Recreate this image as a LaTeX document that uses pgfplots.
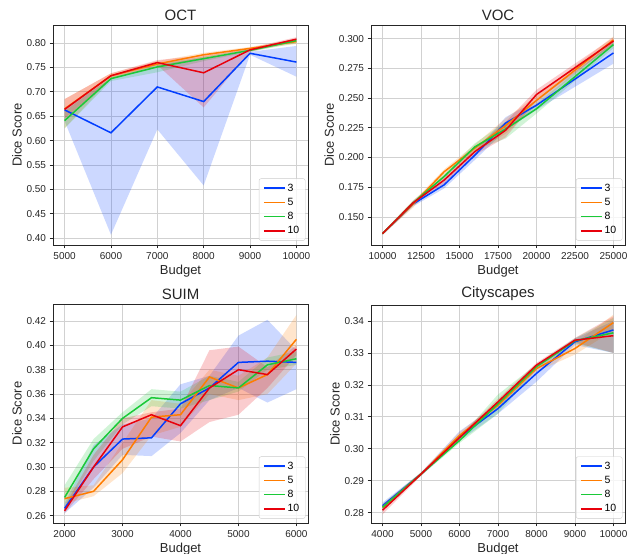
\documentclass[border=0pt]{standalone}
\usepackage{pgfplots}
\pgfplotsset{compat=1.18}
\usepackage{pgfplotstable}
\usepgfplotslibrary{fillbetween}
\usepackage{fontspec}
\setmainfont{Liberation Sans}

\definecolor{c3}{HTML}{023EFF}
\definecolor{c5}{HTML}{FF7C00}
\definecolor{c8}{HTML}{1AC938}
\definecolor{c10}{HTML}{E8000B}
\definecolor{ink}{HTML}{262626}

% columns: x, then mean/low/high for 3, 5, 8, 10
\pgfplotstableread{
x     m3    l3    h3    m5    l5    h5    m8    l8    h8    m10   l10   h10
5000  0.663 0.640 0.666 0.665 0.625 0.685 0.641 0.625 0.660 0.664 0.645 0.685
6000  0.616 0.407 0.727 0.733 0.727 0.738 0.727 0.722 0.731 0.733 0.726 0.738
7000  0.710 0.623 0.755 0.757 0.750 0.763 0.751 0.740 0.757 0.760 0.755 0.765
8000  0.680 0.508 0.770 0.776 0.770 0.780 0.768 0.763 0.772 0.739 0.668 0.775
9000  0.779 0.776 0.782 0.789 0.786 0.792 0.785 0.782 0.788 0.786 0.782 0.790
10000 0.761 0.731 0.794 0.803 0.798 0.808 0.805 0.800 0.809 0.808 0.803 0.812
}\oct

\pgfplotstableread{
x     m3    l3    h3    m5    l5    h5    m8    l8    h8    m10   l10   h10
10000 0.136 0.135 0.137 0.136 0.135 0.137 0.136 0.135 0.137 0.136 0.135 0.137
12000 0.161 0.159 0.163 0.161 0.158 0.163 0.162 0.160 0.164 0.162 0.160 0.164
14000 0.177 0.174 0.180 0.188 0.185 0.190 0.184 0.181 0.186 0.181 0.178 0.184
16000 0.202 0.198 0.205 0.208 0.205 0.211 0.209 0.206 0.212 0.205 0.202 0.208
18000 0.229 0.223 0.234 0.227 0.220 0.233 0.224 0.216 0.230 0.223 0.217 0.230
20000 0.244 0.240 0.248 0.248 0.244 0.252 0.241 0.237 0.245 0.253 0.248 0.257
25000 0.288 0.279 0.297 0.299 0.296 0.302 0.295 0.292 0.298 0.298 0.295 0.301
}\voc

\pgfplotstableread{
x    m3    l3    h3    m5    l5    h5    m8    l8    h8    m10   l10   h10
2000 0.266 0.262 0.270 0.274 0.270 0.283 0.275 0.266 0.285 0.264 0.262 0.268
2500 0.300 0.283 0.318 0.280 0.276 0.285 0.315 0.305 0.323 0.300 0.290 0.310
3000 0.323 0.310 0.335 0.306 0.295 0.320 0.340 0.335 0.345 0.333 0.315 0.340
3500 0.324 0.309 0.340 0.341 0.326 0.355 0.357 0.350 0.364 0.343 0.325 0.345
4000 0.352 0.328 0.368 0.343 0.333 0.352 0.355 0.348 0.362 0.334 0.321 0.348
4500 0.365 0.355 0.375 0.374 0.360 0.380 0.367 0.355 0.375 0.365 0.337 0.396
5000 0.386 0.365 0.408 0.365 0.355 0.375 0.365 0.362 0.370 0.380 0.343 0.399
5500 0.387 0.353 0.421 0.376 0.360 0.390 0.384 0.380 0.390 0.376 0.365 0.382
6000 0.386 0.364 0.396 0.405 0.385 0.425 0.389 0.384 0.395 0.397 0.392 0.400
}\suim

\pgfplotstableread{
x     m3     l3     h3     m5     l5     h5     m8     l8     h8     m10    l10    h10
4000  0.2822 0.2812 0.2832 0.2817 0.2807 0.2827 0.2817 0.2807 0.2827 0.2808 0.2795 0.2820
5000  0.2921 0.2916 0.2926 0.2921 0.2916 0.2926 0.2921 0.2916 0.2926 0.2921 0.2916 0.2926
6000  0.3037 0.3025 0.3055 0.3042 0.3032 0.3052 0.3026 0.3018 0.3034 0.3035 0.3027 0.3043
7000  0.3126 0.3110 0.3140 0.3136 0.3126 0.3146 0.3141 0.3110 0.3170 0.3147 0.3138 0.3156
8000  0.3236 0.3210 0.3260 0.3251 0.3241 0.3261 0.3257 0.3249 0.3265 0.3262 0.3255 0.3269
9000  0.3335 0.3325 0.3345 0.3314 0.3295 0.3330 0.3338 0.3330 0.3346 0.3340 0.3333 0.3347
10000 0.3372 0.3300 0.3400 0.3395 0.3370 0.3420 0.3363 0.3300 0.3410 0.3354 0.3300 0.3415
}\city

% one shaded band: table, path prefix, series, colour
\newcommand{\band}[4]{%
  \addplot[draw=none, forget plot, name path=#2lo#3] table[x=x, y=l#3] {#1};
  \addplot[draw=none, forget plot, name path=#2hi#3] table[x=x, y=h#3] {#1};
  \addplot[fill=#4, fill opacity=0.2, draw=none, forget plot] fill between[of=#2lo#3 and #2hi#3];
}
% bands first, then lines
\newcommand{\panelplots}[2]{%
  \band{#1}{#2}{3}{c3}
  \band{#1}{#2}{5}{c5}
  \band{#1}{#2}{8}{c8}
  \band{#1}{#2}{10}{c10}
  \addplot[c3]  table[x=x, y=m3]  {#1};
  \addplot[c5]  table[x=x, y=m5]  {#1};
  \addplot[c8]  table[x=x, y=m8]  {#1};
  \addplot[c10] table[x=x, y=m10] {#1};
  \legend{3,5,8,10}
}

\pgfplotsset{
  panel/.style={
    scale only axis,
    anchor=south west,
    axis line style={ink, line width=0.8pt},
    grid=major,
    major grid style={color=black!18, line width=0.8pt},
    tick align=outside,
    tick pos=left,
    major tick length=3.5pt,
    tick style={ink, line width=0.8pt},
    scaled x ticks=false,
    scaled y ticks=false,
    ticklabel style={font=\fontsize{10}{12}\selectfont, color=ink},
    label style={font=\fontsize{13}{15}\selectfont, color=ink},
    title style={font=\fontsize{15}{17}\selectfont, color=ink, yshift=-5pt},
    xlabel={Budget},
    ylabel={Dice Score},
    xlabel style={yshift=1pt},
    ylabel style={yshift=-2pt},
    /pgf/number format/assume math mode=true,
    x tick label style={/pgf/number format/1000 sep={}},
    every axis plot/.append style={line width=1.5pt},
    legend cell align=left,
    legend style={at={(rel axis cs:0.99,0.02)}, anchor=south east,
      draw=black!20, rounded corners=2pt, fill=white, fill opacity=0.8,
      text opacity=1, font=\fontsize{10.5}{12}\selectfont, row sep=1.5pt,
      inner xsep=4pt, inner ysep=3pt},
    legend image code/.code={\draw[##1, line width=1.5pt] (0pt,0pt) -- (21pt,0pt);},
  },
  prec/.style={y tick label style={/pgf/number format/fixed,
      /pgf/number format/fixed zerofill, /pgf/number format/precision=#1}},
}

\begin{document}
\begin{tikzpicture}

\begin{axis}[panel, at={(53pt,309pt)}, width=255pt, height=220pt,
  title={OCT},
  xmin=4750, xmax=10250, ymin=0.386, ymax=0.837,
  xtick={5000,6000,...,10000}, ytick={0.40,0.45,...,0.81}, prec=2]
\panelplots{\oct}{oct}
\end{axis}

\begin{axis}[panel, at={(371pt,309pt)}, width=254pt, height=220pt,
  title={VOC},
  xmin=9250, xmax=25750, ymin=0.1264, ymax=0.3115,
  xtick={10000,12500,...,25000}, ytick={0.150,0.175,...,0.301}, prec=3]
\panelplots{\voc}{voc}
\end{axis}

\begin{axis}[panel, at={(53pt,31pt)}, width=255pt, height=219pt,
  title={SUIM},
  xmin=1800, xmax=6200, ymin=0.254, ymax=0.434,
  xtick={2000,3000,...,6000}, ytick={0.26,0.28,...,0.421}, prec=2]
\panelplots{\suim}{suim}
\end{axis}

\begin{axis}[panel, at={(371pt,31pt)}, width=254pt, height=218pt,
  title={Cityscapes},
  xmin=3700, xmax=10300, ymin=0.2768, ymax=0.345,
  xtick={4000,5000,...,10000}, ytick={0.28,0.29,...,0.341}, prec=2]
\panelplots{\city}{city}
\end{axis}

\pgfresetboundingbox
\path[use as bounding box] (0pt,0pt) rectangle (627pt,554pt);
\end{tikzpicture}
\end{document}
